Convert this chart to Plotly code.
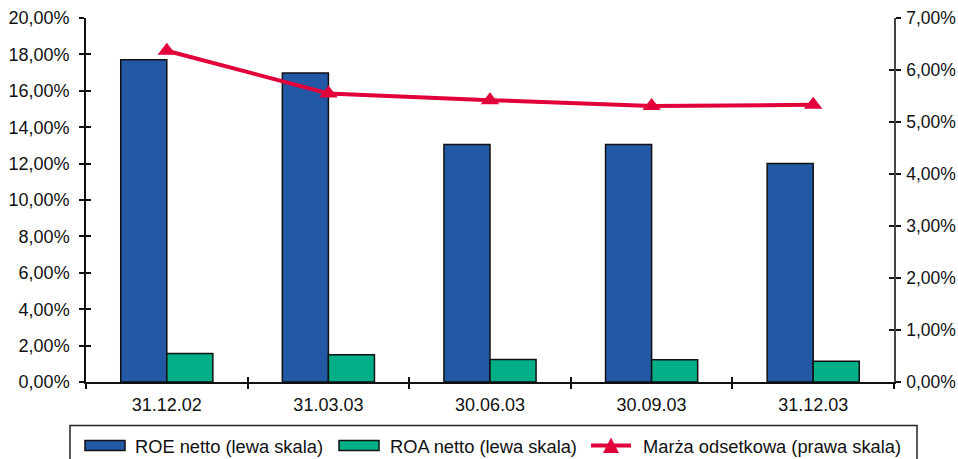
import plotly.graph_objects as go

# Data
dates = ["31.12.02", "31.03.03", "30.06.03", "30.09.03", "31.12.03"]
roe = [0.1770, 0.1698, 0.1305, 0.1305, 0.1200]
roa = [0.0156, 0.0150, 0.0124, 0.0122, 0.0114]
marza = [0.0637, 0.0555, 0.0542, 0.0531, 0.0533]

names = ["ROE netto (lewa skala)", "ROA netto (lewa skala)", "Marża odsetkowa (prawa skala)"]

BLUE = "#2358A5"
GREEN = "#00AE88"
RED = "#E2003A"
FONT = "Liberation Sans, Arial, sans-serif"

W, H = 958, 459
ML, MR, MT, MB = 86, 64, 18, 77
PW, PH = W - ML - MR, H - MT - MB


def px(x):
    return (x - ML) / PW


def py(y):
    return (H - MB - y) / PH


fig = go.Figure()
fig.add_bar(x=dates, y=roe, name=names[0], marker=dict(color=BLUE, line=dict(color="#111", width=1.5)),
            showlegend=False)
fig.add_bar(x=dates, y=roa, name=names[1], marker=dict(color=GREEN, line=dict(color="#111", width=1.5)),
            showlegend=False)
fig.add_scatter(x=dates, y=marza, name=names[2], yaxis="y2", mode="lines+markers",
                line=dict(color=RED, width=4),
                marker=dict(symbol="triangle-up", size=16, color=RED), showlegend=False)

tickfont = dict(family=FONT, size=18, color="#111")
tickfont_r = dict(family=FONT, size=17.5, color="#111")

fig.update_layout(
    width=W, height=H,
    margin=dict(l=ML, r=MR, t=MT, b=MB, autoexpand=False),
    paper_bgcolor="white", plot_bgcolor="white",
    separators=",.",
    barmode="group", bargap=0.43, bargroupgap=0,
    font=dict(family=FONT, size=18, color="#111"),
    xaxis=dict(type="category", range=[-0.5, 4.5], showline=True, linecolor="#111", linewidth=1.5,
               ticks="outside", ticklen=5, tickcolor="#111", tickwidth=1.5, tickson="boundaries",
               showgrid=False, tickfont=tickfont, ticklabelstandoff=6, automargin=False),
    xaxis2=dict(overlaying="x", range=[-0.5, 4.5], tickvals=[0.5, 1.5, 2.5, 3.5], ticks="inside",
                ticklen=5, tickcolor="#111", tickwidth=1.5, showticklabels=False, showgrid=False,
                zeroline=False, showline=False, automargin=False),
    yaxis=dict(range=[0, 0.2], dtick=0.02, tickformat=".2%", showline=True, linecolor="#111",
               linewidth=1.5, ticks="outside", ticklen=5, tickcolor="#111", tickwidth=1.5,
               showgrid=False, zeroline=False, tickfont=tickfont, ticklabelstandoff=6,
               automargin=False),
    yaxis2=dict(range=[0, 0.07], dtick=0.01, tickformat=".2%", overlaying="y", side="right",
                showline=True, linecolor="#444", linewidth=1.5, ticks="outside", ticklen=5,
                tickcolor="#111", tickwidth=1.5, showgrid=False, zeroline=False, tickfont=tickfont_r,
                ticklabelstandoff=2, automargin=False),
    yaxis3=dict(range=[0, 0.2], dtick=0.02, overlaying="y", ticks="inside", ticklen=5,
                tickcolor="#111", tickwidth=1.5, showticklabels=False, showgrid=False,
                zeroline=False, showline=False, automargin=False),
    yaxis4=dict(range=[0, 0.07], dtick=0.01, overlaying="y", side="right", ticks="inside",
                ticklen=5, tickcolor="#111", tickwidth=1.5, showticklabels=False, showgrid=False,
                zeroline=False, showline=False, automargin=False),
)

# Empty traces so the overlay tick axes are drawn
fig.add_scatter(x=[None], y=[None], xaxis="x2", yaxis="y3", showlegend=False, hoverinfo="skip")
fig.add_scatter(x=[None], y=[None], xaxis="x2", yaxis="y4", showlegend=False, hoverinfo="skip")

# Legend box drawn below the plot
shapes = [
    dict(type="rect", xref="paper", yref="paper", x0=px(70), x1=px(917), y0=py(475), y1=py(425.5),
         line=dict(color="#222", width=1.5), fillcolor="rgba(0,0,0,0)"),
    dict(type="rect", xref="paper", yref="paper", x0=px(85), x1=px(125), y0=py(450.5), y1=py(440.5),
         line=dict(color="#111", width=1.5), fillcolor=BLUE),
    dict(type="rect", xref="paper", yref="paper", x0=px(339), x1=px(379), y0=py(450.5), y1=py(440.5),
         line=dict(color="#111", width=1.5), fillcolor=GREEN),
    dict(type="line", xref="paper", yref="paper", x0=px(591), x1=px(631), y0=py(445.5), y1=py(445.5),
         line=dict(color=RED, width=4)),
    dict(type="path", xref="paper", yref="paper",
         path=f"M {px(603)} {py(453)} L {px(619)} {py(453)} L {px(611)} {py(437.5)} Z",
         line=dict(color=RED, width=0), fillcolor=RED),
]
annotations = [
    dict(text=names[0], x=px(133), y=py(446), xref="paper", yref="paper", xanchor="left",
         yanchor="middle", showarrow=False, font=dict(family=FONT, size=18.3, color="#111")),
    dict(text=names[1], x=px(387.5), y=py(446), xref="paper", yref="paper", xanchor="left",
         yanchor="middle", showarrow=False, font=dict(family=FONT, size=18.3, color="#111")),
    dict(text=names[2], x=px(641), y=py(446), xref="paper", yref="paper", xanchor="left",
         yanchor="middle", showarrow=False, font=dict(family=FONT, size=18.3, color="#111")),
]
fig.update_layout(shapes=shapes, annotations=annotations)

fig.write_html("out.html")
